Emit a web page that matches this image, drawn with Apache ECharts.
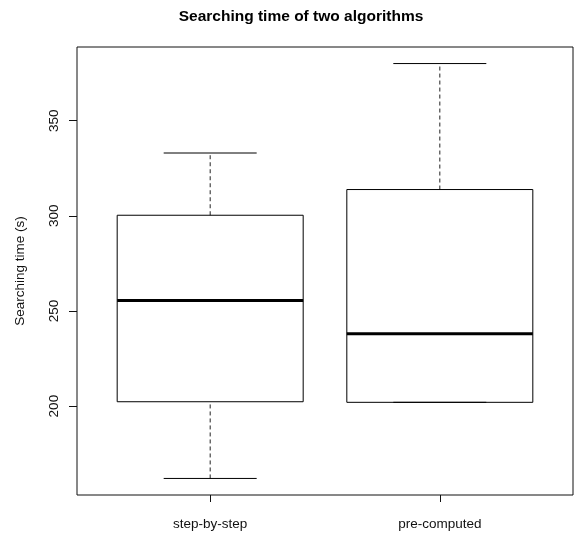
<!DOCTYPE html>
<html>
<head>
<meta charset="utf-8">
<script src="https://cdn.jsdelivr.net/npm/echarts@6/dist/echarts.min.js"></script>
<style>
html,body{margin:0;padding:0;background:#fff;}
#chart{width:574px;height:534px;}
</style>
</head>
<body>
<div id="chart"></div>
<script>
var categories = ['step-by-step', 'pre-computed'];
var whiskerLow = [162, 202];
var lowerQuartile = [202.3, 202];
var medians = [255.5, 238];
var upperQuartile = [300.3, 313.8];
var whiskerHigh = [333, 380];
var yTicks = [200, 250, 300, 350];

var boxData = categories.map(function (c, i) {
  return [i + 1, whiskerLow[i], lowerQuartile[i], medians[i], upperQuartile[i], whiskerHigh[i]];
});

var chart = echarts.init(document.getElementById('chart'), null, {renderer: 'canvas'});
var font = 'Liberation Sans, Arial, sans-serif';

function renderItem(params, api) {
  var x = api.value(0);
  var w = api.size([0.81, 0])[0];
  var cap = w / 2;
  var pLow = api.coord([x, api.value(1)]);
  var pQ1 = api.coord([x, api.value(2)]);
  var pMed = api.coord([x, api.value(3)]);
  var pQ3 = api.coord([x, api.value(4)]);
  var pHigh = api.coord([x, api.value(5)]);
  var cx = pMed[0];
  var solid = {stroke: '#000', lineWidth: 1, fill: null};
  var dashed = {stroke: '#222', lineWidth: 1, lineDash: [4, 3]};
  return {
    type: 'group',
    children: [
      {type: 'line', shape: {x1: cx, y1: pQ3[1], x2: cx, y2: pHigh[1]}, style: dashed},
      {type: 'line', shape: {x1: cx, y1: pLow[1], x2: cx, y2: pQ1[1]}, style: dashed},
      {type: 'line', shape: {x1: cx - cap / 2, y1: pHigh[1], x2: cx + cap / 2, y2: pHigh[1]}, style: solid},
      {type: 'line', shape: {x1: cx - cap / 2, y1: pLow[1], x2: cx + cap / 2, y2: pLow[1]}, style: solid},
      {type: 'rect', shape: {x: cx - w / 2, y: pQ3[1], width: w, height: pQ1[1] - pQ3[1]}, style: {stroke: '#000', lineWidth: 1, fill: 'rgba(0,0,0,0)'}},
      {type: 'line', shape: {x1: cx - w / 2, y1: pMed[1], x2: cx + w / 2, y2: pMed[1]}, style: {stroke: '#000', lineWidth: 3}}
    ]
  };
}

chart.setOption({
  animation: false,
  backgroundColor: '#fff',
  title: {
    text: 'Searching time of two algorithms',
    left: 296,
    textAlign: 'center',
    top: 4,
    textStyle: {fontFamily: font, fontWeight: 'bold', fontSize: 15.5, color: '#000'}
  },
  grid: {
    left: 77, top: 47, right: 1, bottom: 39,
    show: true, borderColor: '#111', borderWidth: 1, backgroundColor: 'transparent'
  },
  xAxis: {
    type: 'value',
    min: 0.42,
    max: 2.58,
    splitLine: {show: false},
    axisLine: {show: false},
    axisTick: {show: true, customValues: [1, 2], length: 7, lineStyle: {color: '#111'}},
    axisLabel: {
      customValues: [1, 2],
      formatter: function (v) { return categories[Math.round(v) - 1]; },
      margin: 22,
      fontFamily: font, fontSize: 13.5, color: '#111'
    }
  },
  yAxis: {
    type: 'value',
    min: 153.3,
    max: 388.7,
    name: 'Searching time (s)',
    nameLocation: 'middle',
    nameRotate: 90,
    nameGap: 50,
    nameTextStyle: {fontFamily: font, fontSize: 13.5, color: '#111'},
    splitLine: {show: false},
    axisLine: {show: false},
    axisTick: {show: true, customValues: yTicks, length: 8, lineStyle: {color: '#111'}},
    axisLabel: {
      customValues: yTicks,
      rotate: 90,
      margin: 16,
      fontFamily: font, fontSize: 13.5, color: '#111'
    }
  },
  series: [{
    type: 'custom',
    renderItem: renderItem,
    data: boxData,
    encode: {x: 0, y: [1, 2, 3, 4, 5]}
  }]
});
</script>
</body>
</html>
